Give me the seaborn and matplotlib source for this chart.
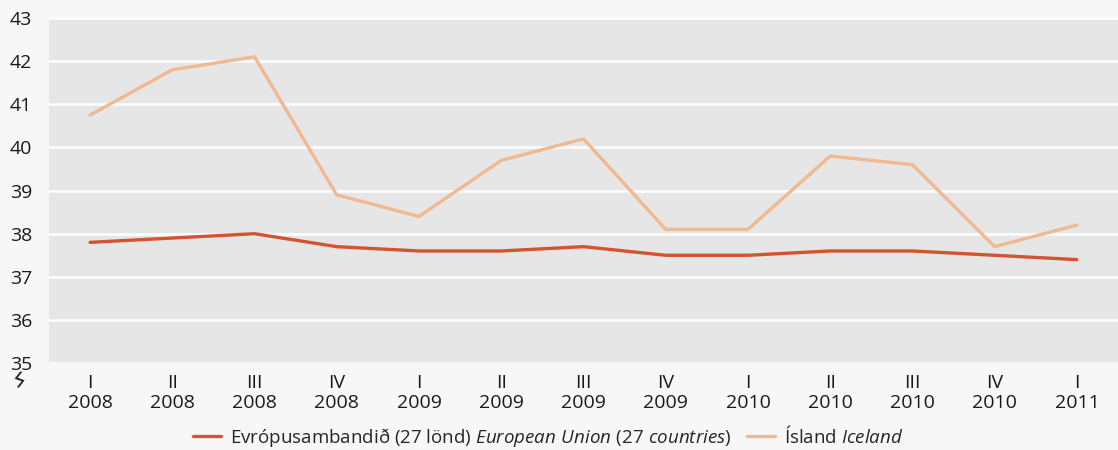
import matplotlib
matplotlib.use("Agg")
import matplotlib.pyplot as plt
import seaborn as sns
import pandas as pd

# data
quarters = ["I", "II", "III", "IV", "I", "II", "III", "IV", "I", "II", "III", "IV", "I"]
years = ["2008", "2008", "2008", "2008", "2009", "2009", "2009", "2009",
         "2010", "2010", "2010", "2010", "2011"]
eu_values = [37.8, 37.9, 38.0, 37.7, 37.6, 37.6, 37.7, 37.5, 37.5, 37.6, 37.6, 37.5, 37.4]
iceland_values = [40.75, 41.8, 42.1, 38.9, 38.4, 39.7, 40.2, 38.1, 38.1, 39.8, 39.6, 37.7, 38.2]
y_ticks = [35, 36, 37, 38, 39, 40, 41, 42, 43]

eu_label = r"Evrópusambandið (27 lönd) $\it{European\ Union\ (27\ countries)}$"
is_label = r"Ísland $\it{Iceland}$"

sns.set_theme(style="white")
plt.rcParams["font.family"] = ["Open Sans", "DejaVu Sans"]
plt.rcParams["mathtext.fontset"] = "custom"
plt.rcParams["mathtext.rm"] = "Open Sans"
plt.rcParams["mathtext.it"] = "Open Sans:italic"

labels = [f"{q}\n{y}" for q, y in zip(quarters, years)]
df = pd.DataFrame({
    "pos": list(range(len(labels))) * 2,
    "value": eu_values + iceland_values,
    "series": [eu_label] * len(labels) + [is_label] * len(labels),
})

fig = plt.figure(figsize=(11.18, 4.5), dpi=100, facecolor="#f7f7f7")
ax = fig.add_axes([0.0438, 0.193, 0.9562, 0.767])
ax.set_facecolor("#e6e6e6")

sns.lineplot(data=df, x="pos", y="value", hue="series",
             palette={eu_label: "#d3552f", is_label: "#f0b98f"},
             linewidth=2.4, ax=ax, legend=True)

ax.set_xlim(-0.5, len(labels) - 0.5)
ax.set_ylim(35, 43)
ax.set_yticks(y_ticks)
ax.set_xticks(range(len(labels)))
ax.set_xticklabels(labels, linespacing=1.12)
ax.grid(axis="y", color="white", linewidth=1.8)
ax.set_axisbelow(True)
ax.tick_params(axis="both", length=0, labelsize=14, colors="#1a1a1a")
ax.tick_params(axis="x", pad=8)
ax.tick_params(axis="y", pad=12)
for s in ax.spines.values():
    s.set_visible(False)
ax.set_xlabel("")
ax.set_ylabel("")

# axis break mark under the y axis
fig.text(0.016, 0.152, "ϟ", fontsize=15, family="DejaVu Sans",
         ha="center", va="center", color="#1a1a1a", rotation=-20)

ax.legend(title=None, loc="center", bbox_to_anchor=(0.467, -0.213),
          ncol=2, frameon=False, fontsize=13.5, handlelength=1.5,
          columnspacing=0.8, handletextpad=0.5, borderpad=0)

fig.savefig("out.png", dpi=100, facecolor=fig.get_facecolor())
